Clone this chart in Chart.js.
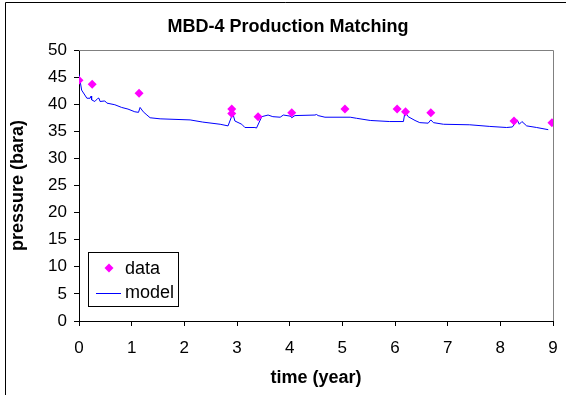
<!DOCTYPE html>
<html>
<head>
<meta charset="utf-8">
<script src="https://cdn.jsdelivr.net/npm/chart.js@4"></script>
<style>
  html, body { margin: 0; padding: 0; background: #fff; }
  #wrap { width: 566px; height: 395px; }
</style>
</head>
<body>
<div id="wrap"><canvas id="grafiks" width="566" height="395"></canvas></div>
<script>
const dataGadi = [0, 0.25, 1.14, 2.9, 2.9, 3.4, 4.04, 5.05, 6.04, 6.2, 6.68, 8.26, 8.98];
const dataSpiediens = [44.4, 43.7, 42.0, 39.1, 38.3, 37.7, 38.4, 39.1, 39.1, 38.6, 38.4, 36.9, 36.6];

const modelGadi = [0, 0.05, 0.15, 0.21, 0.23, 0.24, 0.30, 0.36, 0.38, 0.40, 0.49, 0.53, 0.68, 0.81, 0.93,
    1.06, 1.13, 1.16, 1.22, 1.29, 1.35, 1.54, 2.11, 2.35, 2.68, 2.83, 2.92, 2.96, 3.09, 3.15, 3.34, 3.37,
    3.47, 3.59, 3.68, 3.82, 3.88, 4.01, 4.04, 4.10, 4.48, 4.51, 4.54, 4.67, 5.15, 5.27, 5.53, 5.90, 6.16,
    6.19, 6.25, 6.38, 6.47, 6.63, 6.68, 6.73, 6.92, 7.42, 7.80, 8.12, 8.23, 8.32, 8.36, 8.41, 8.50, 8.69, 8.91];
const modelSpiediens = [45.5, 42.6, 41.1, 41.1, 41.5, 40.8, 40.5, 41.1, 41.1, 40.5, 40.6, 40.2, 39.9, 39.4, 39.1,
    38.6, 38.5, 39.4, 38.6, 38.0, 37.5, 37.3, 37.1, 36.7, 36.3, 36.0, 38.3, 36.9, 36.3, 35.7, 35.7, 35.6,
    37.7, 38.0, 37.7, 37.6, 38.0, 37.8, 37.5, 37.9, 38.0, 38.1, 37.9, 37.6, 37.6, 37.4, 37.0, 36.8, 36.8,
    38.6, 37.7, 37.0, 36.6, 36.5, 37.1, 36.6, 36.3, 36.2, 35.9, 35.7, 35.8, 37.1, 36.3, 36.8, 36.0, 35.7, 35.3];

const xTicks = [0, 1, 2, 3, 4, 5, 6, 7, 8, 9];
const yTicks = [0, 5, 10, 15, 20, 25, 30, 35, 40, 45, 50];
const legendaTeksti = ['data', 'model'];
const virsraksts = 'MBD-4 Production Matching';

const fonts = 'Arial, "Liberation Sans", sans-serif';

const ramisPlugin = {
    id: 'ramis',
    beforeDraw(chart) {
        const c = chart.ctx;
        c.save();
        c.fillStyle = '#fff';
        c.fillRect(0, 0, chart.width, chart.height);
        c.restore();
    },
    afterDraw(chart) {
        const c = chart.ctx;
        const a = chart.chartArea;
        c.save();
        // ārējais rāmis
        c.strokeStyle = '#000';
        c.lineWidth = 1;
        c.beginPath();
        c.moveTo(5.5, 395); c.lineTo(5.5, 2.5); c.lineTo(566, 2.5);
        c.stroke();
        // zīmēšanas laukuma augša un labā mala
        c.strokeStyle = '#808080';
        c.beginPath();
        c.moveTo(a.left, a.top + 0.5); c.lineTo(a.right + 0.5, a.top + 0.5); c.lineTo(a.right + 0.5, a.bottom);
        c.stroke();
        // virsraksts
        c.fillStyle = '#000';
        c.font = 'bold 18px ' + fonts;
        c.textAlign = 'center';
        c.textBaseline = 'middle';
        c.fillText(virsraksts, 288, 27);
        // leģenda
        const lx = 88.5, ly = 252.5;
        c.fillStyle = '#fff';
        c.fillRect(lx, ly, 90, 54);
        c.strokeStyle = '#000';
        c.strokeRect(lx, ly, 90, 54);
        c.fillStyle = '#ff00ff';
        c.beginPath();
        c.moveTo(109, 263.5); c.lineTo(113.5, 268); c.lineTo(109, 272.5); c.lineTo(104.5, 268);
        c.closePath(); c.fill();
        c.strokeStyle = '#0000ff';
        c.beginPath();
        c.moveTo(96, 293.5); c.lineTo(121, 293.5);
        c.stroke();
        c.fillStyle = '#000';
        c.font = '18px ' + fonts;
        c.textBaseline = 'middle';
        c.textAlign = 'left';
        c.fillText(legendaTeksti[0], 125, 269);
        c.fillText(legendaTeksti[1], 125, 293);
        c.restore();
    }
};

new Chart(document.getElementById('grafiks'), {
    type: 'scatter',
    data: {
        datasets: [
            {
                label: legendaTeksti[0],
                data: dataGadi.map((g, i) => ({x: g, y: dataSpiediens[i]})),
                showLine: false,
                pointStyle: 'rectRot',
                pointRadius: 4.5,
                backgroundColor: '#ff00ff',
                borderColor: '#ff00ff',
                borderWidth: 0
            },
            {
                label: legendaTeksti[1],
                data: modelGadi.map((g, i) => ({x: g, y: modelSpiediens[i]})),
                showLine: true,
                pointRadius: 0,
                borderColor: '#0000ff',
                borderWidth: 1,
                tension: 0
            }
        ]
    },
    options: {
        responsive: false,
        animation: false,
        layout: {padding: {left: 0, right: 13, top: 50, bottom: 0}},
        plugins: {
            legend: {display: false},
            tooltip: {enabled: false},
            title: {display: false}
        },
        scales: {
            x: {
                type: 'linear',
                min: 0, max: 9,
                afterFit: s => { s.height = 74; s.paddingLeft = 0; s.paddingRight = 0; },
                afterBuildTicks: s => { s.ticks = xTicks.map(v => ({value: v})); },
                grid: {drawOnChartArea: false, drawTicks: true, tickLength: 5, color: '#000'},
                border: {color: '#000'},
                ticks: {color: '#000', font: {family: fonts, size: 17}, padding: 12, maxRotation: 0},
                title: {display: true, text: 'time (year)', color: '#000',
                    font: {family: fonts, size: 18, weight: 'bold'}, padding: {top: 4, bottom: 6}}
            },
            y: {
                min: 0, max: 50,
                afterFit: s => { s.width = 79; s.paddingTop = 0; s.paddingBottom = 0; },
                afterBuildTicks: s => { s.ticks = yTicks.map(v => ({value: v})); },
                grid: {drawOnChartArea: false, drawTicks: true, tickLength: 5, color: '#000'},
                border: {color: '#000'},
                ticks: {color: '#000', font: {family: fonts, size: 17}, padding: 7},
                title: {display: true, text: 'pressure (bara)', color: '#000',
                    font: {family: fonts, size: 18, weight: 'bold'}, padding: {top: 7, bottom: 4}}
            }
        }
    },
    plugins: [ramisPlugin]
});
</script>
</body>
</html>
